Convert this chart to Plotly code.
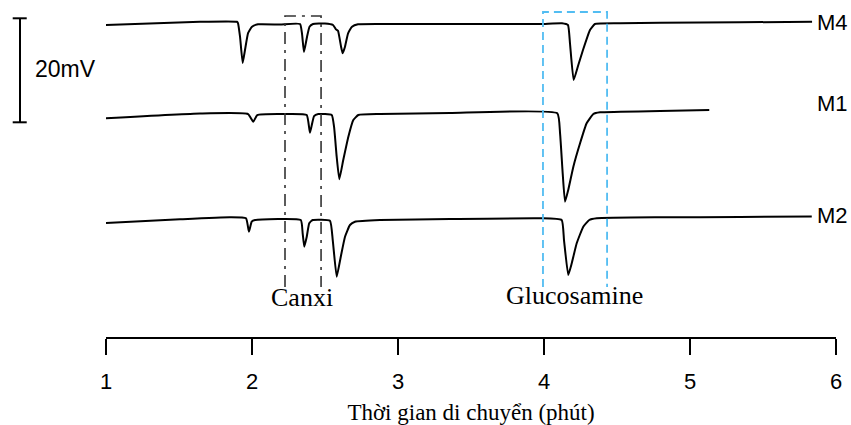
import plotly.graph_objects as go

# ---------------- data (time in minutes, signal in mV, traces stacked) ----------------
M4_TIME = [1.000, 1.644, 1.897, 1.904, 1.918, 1.936, 1.952, 1.973, 2.000, 2.041, 2.192,
           2.329, 2.342, 2.356, 2.377, 2.394, 2.418, 2.500, 2.555, 2.575, 2.589, 2.610,
           2.621, 2.637, 2.658, 2.685, 2.726, 2.877, 3.356, 3.973, 4.123, 4.164, 4.178,
           4.203, 4.235, 4.267, 4.315, 4.349, 4.521, 4.795, 5.342, 5.836]
M4_MV = [60.00, 60.63, 60.63, 60.38, 57.75, 52.69, 55.19, 58.46, 59.67, 60.13, 60.10,
         60.19, 58.46, 54.81, 57.75, 59.67, 60.19, 60.29, 60.00, 59.17, 58.90, 55.83,
         54.56, 55.83, 58.40, 59.67, 60.13, 60.19, 60.19, 60.19, 60.33, 60.00, 56.48,
         49.42, 52.31, 55.19, 59.04, 60.19, 60.33, 60.44, 60.52, 60.63]

M1_TIME = [1.000, 1.644, 1.973, 2.009, 2.036, 2.260, 2.375, 2.397, 2.425, 2.454, 2.546,
           2.562, 2.580, 2.598, 2.625, 2.660, 2.694, 2.728, 2.877, 3.356, 4.091, 4.110,
           4.128, 4.144, 4.166, 4.201, 4.247, 4.292, 4.338, 4.384, 4.795, 5.132]
M1_MV = [42.06, 42.98, 42.88, 41.40, 42.69, 42.88, 42.69, 39.29, 42.50, 42.88, 42.69,
         40.44, 34.67, 30.33, 34.04, 38.52, 41.73, 42.69, 42.88, 43.08, 43.02, 39.17,
         31.48, 26.02, 28.27, 32.75, 37.25, 41.10, 42.88, 43.21, 43.46, 43.65]

M2_TIME = [1.000, 1.507, 1.849, 1.959, 1.979, 1.998, 2.021, 2.334, 2.347, 2.358, 2.375,
           2.392, 2.416, 2.534, 2.553, 2.580, 2.608, 2.637, 2.671, 2.705, 2.877, 3.356,
           3.973, 4.121, 4.137, 4.166, 4.190, 4.224, 4.269, 4.310, 4.361, 4.795, 5.342,
           5.834]
M2_MV = [21.92, 22.63, 23.02, 22.83, 20.25, 22.17, 22.50, 22.50, 19.94, 17.37, 19.29,
         21.87, 22.50, 22.37, 18.65, 11.60, 15.44, 19.29, 21.54, 22.17, 22.50, 22.69,
         22.83, 22.50, 18.65, 11.92, 14.17, 18.02, 21.21, 22.50, 22.83, 23.02, 23.08,
         23.17]

SAMPLE_NAMES = ["M4", "M1", "M2"]
LABEL_TIME = 5.856
LABEL_MV = [60.58, 45.0, 23.46]

TICK_VALUES = [1, 2, 3, 4, 5, 6]
TICK_LABELS = ["1", "2", "3", "4", "5", "6"]
X_TITLE = "Thời gian di chuyển (phút)"

CANXI_WINDOW = [2.226, 2.473]
CANXI_MV_SPAN = [9.6, 61.73]
GLUCO_WINDOW = [3.993, 4.432]
GLUCO_MV_SPAN = [9.6, 62.5]
REGION_NAMES = ["Canxi", "Glucosamine"]
REGION_LABEL_TIME = [2.34, 4.209]
REGION_LABEL_MV = [7.6, 7.9]

SCALE_BAR_MV = 20
SCALE_BAR_BOTTOM = 41.29
SCALE_BAR_TEXT = "20mV"

# ---------------- figure ----------------
fig = go.Figure()
for t, v in zip([M4_TIME, M1_TIME, M2_TIME], [M4_MV, M1_MV, M2_MV]):
    fig.add_trace(go.Scatter(x=t, y=v, mode="lines",
                             line=dict(color="black", width=2, shape="spline", smoothing=0.4),
                             hoverinfo="skip", showlegend=False))

SANS = "Liberation Sans, Arial, sans-serif"
SERIF = "Liberation Serif, Times New Roman, serif"

annotations = []
for name, y in zip(SAMPLE_NAMES, LABEL_MV):
    annotations.append(dict(x=LABEL_TIME, y=y, xref="x", yref="y", text=name,
                            showarrow=False, xanchor="left", yanchor="middle",
                            font=dict(family=SANS, size=22, color="black")))
for name, x, y in zip(REGION_NAMES, REGION_LABEL_TIME, REGION_LABEL_MV):
    annotations.append(dict(x=x, y=y, xref="x", yref="y", text=name,
                            showarrow=False, xanchor="center", yanchor="middle",
                            font=dict(family=SERIF, size=26, color="black")))
annotations.append(dict(x=-0.1004, y=SCALE_BAR_BOTTOM + 10.25, xref="paper", yref="y",
                        text=SCALE_BAR_TEXT, showarrow=False, xanchor="left",
                        yanchor="middle", font=dict(family=SANS, size=23, color="black")))

shapes = []
# Canxi window (dash-dot, open bottom)
c0, c1 = CANXI_WINDOW
cb, ct = CANXI_MV_SPAN
shapes.append(dict(type="path", xref="x", yref="y",
                   path=f"M {c0},{cb} L {c0},{ct} L {c1},{ct} L {c1},{cb}",
                   line=dict(color="#333333", width=1.6, dash="12px,6px,3px,6px")))
# Glucosamine window (blue dashed, open bottom)
g0, g1 = GLUCO_WINDOW
gb, gt = GLUCO_MV_SPAN
shapes.append(dict(type="path", xref="x", yref="y",
                   path=f"M {g0},{gb} L {g0},{gt} L {g1},{gt} L {g1},{gb}",
                   line=dict(color="#52BDF2", width=1.8, dash="8px,5px")))
# scale bar
bar_x, cap_l, cap_r = -0.1178, -0.1278, -0.1086
sb0, sb1 = SCALE_BAR_BOTTOM, SCALE_BAR_BOTTOM + SCALE_BAR_MV
shapes.append(dict(type="line", xref="paper", yref="y", x0=bar_x, x1=bar_x, y0=sb0, y1=sb1,
                   line=dict(color="black", width=2)))
for yy in (sb0, sb1):
    shapes.append(dict(type="line", xref="paper", yref="y", x0=cap_l, x1=cap_r, y0=yy, y1=yy,
                       line=dict(color="black", width=2)))

fig.update_layout(
    width=851, height=425,
    margin=dict(l=106, r=15, t=0, b=88),
    paper_bgcolor="white", plot_bgcolor="white",
    annotations=annotations, shapes=shapes,
    xaxis=dict(range=[1, 6], tickvals=TICK_VALUES, ticktext=TICK_LABELS,
               showgrid=False, zeroline=False, showline=True, linecolor="black",
               linewidth=2, ticks="outside", ticklen=16, tickwidth=2, tickcolor="black",
               ticklabelstandoff=8, automargin=False,
               tickfont=dict(family=SANS, size=22, color="black"),
               title=dict(text=X_TITLE, standoff=10,
                          font=dict(family=SERIF, size=23, color="black"))),
    yaxis=dict(range=[0, 64.81], visible=False, automargin=False),
)

fig.write_html("out.html", config={"displayModeBar": False},
               post_script="document.body.style.margin='0';document.body.style.overflow='hidden';")
